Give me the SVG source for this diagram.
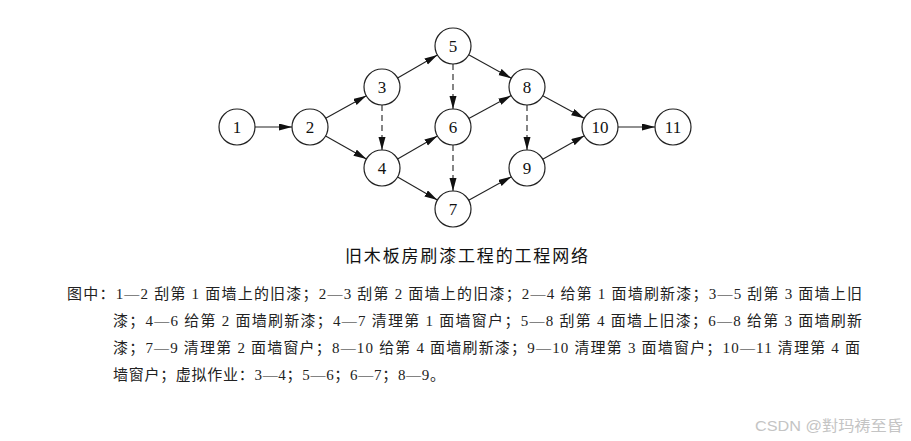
<svg xmlns="http://www.w3.org/2000/svg" width="911" height="441" viewBox="0 0 911 441">
<style>
.node circle{fill:#fff;stroke:#222;stroke-width:1.2}
.node text{font-family:"Liberation Serif","Times New Roman",serif;font-size:17px;fill:#111;text-anchor:middle}
.edge{stroke:#222;stroke-width:1.1;fill:none;marker-end:url(#ah)}
.dash{stroke-dasharray:6 4}
.cap{font-family:"Liberation Serif","Noto Sans CJK SC",serif;font-size:15px;fill:#222}
.title{font-family:"Noto Sans CJK SC",sans-serif;font-size:17px;fill:#111}
.wm{font-family:"Liberation Sans","Noto Sans CJK SC",sans-serif;font-size:15px;fill:#c4c4c4}
</style>
<defs>
<marker id="ah" markerUnits="userSpaceOnUse" markerWidth="14" markerHeight="8" refX="13" refY="3.5" orient="auto">
<path d="M0,0 L13,3.5 L0,7 Z" fill="#111"/>
</marker>
</defs>
<rect width="911" height="441" fill="#fff"/>
<g id="connectors">
<line class="edge" x1="255" y1="127" x2="292" y2="127"/>
<line class="edge" x1="325.7" y1="118.3" x2="366.3" y2="95.7"/>
<line class="edge" x1="325.6" y1="135.9" x2="366.4" y2="159.1"/>
<line class="edge" x1="397.6" y1="78" x2="437.4" y2="55"/>
<line class="edge dash" x1="382" y1="105" x2="382" y2="150"/>
<line class="edge" x1="397.6" y1="159" x2="437.4" y2="136"/>
<line class="edge" x1="397.6" y1="177" x2="437.4" y2="200"/>
<line class="edge dash" x1="453" y1="64" x2="453" y2="109"/>
<line class="edge" x1="468.7" y1="54.7" x2="511.3" y2="78.3"/>
<line class="edge" x1="468.8" y1="118.4" x2="511.2" y2="95.6"/>
<line class="edge dash" x1="453" y1="145" x2="453" y2="191"/>
<line class="edge" x1="468.7" y1="200.3" x2="511.3" y2="176.7"/>
<line class="edge dash" x1="527" y1="105" x2="527" y2="150"/>
<line class="edge" x1="542.8" y1="95.7" x2="584.2" y2="118.3"/>
<line class="edge" x1="542.7" y1="159.2" x2="584.3" y2="135.8"/>
<line class="edge" x1="618" y1="127" x2="655" y2="127"/>
</g>
<g id="n1" class="node"><circle cx="237" cy="127" r="18"/><text x="237" y="133">1</text></g>
<g id="n2" class="node"><circle cx="310" cy="127" r="18"/><text x="310" y="133">2</text></g>
<g id="n3" class="node"><circle cx="382" cy="87" r="18"/><text x="382" y="93">3</text></g>
<g id="n4" class="node"><circle cx="382" cy="168" r="18"/><text x="382" y="174">4</text></g>
<g id="n5" class="node"><circle cx="453" cy="46" r="18"/><text x="453" y="52">5</text></g>
<g id="n6" class="node"><circle cx="453" cy="127" r="18"/><text x="453" y="133">6</text></g>
<g id="n7" class="node"><circle cx="453" cy="209" r="18"/><text x="453" y="215">7</text></g>
<g id="n8" class="node"><circle cx="527" cy="87" r="18"/><text x="527" y="93">8</text></g>
<g id="n9" class="node"><circle cx="527" cy="168" r="18"/><text x="527" y="174">9</text></g>
<g id="n10" class="node"><circle cx="600" cy="127" r="18"/><text x="600" y="133">10</text></g>
<g id="n11" class="node"><circle cx="673" cy="127" r="18"/><text x="673" y="133">11</text></g>
<text class="title" x="345" y="262" textLength="243" lengthAdjust="spacing">旧木板房刷漆工程的工程网络</text>
<text class="cap" x="67" y="299" textLength="795" lengthAdjust="spacing">图中：1—2 刮第 1 面墙上的旧漆；2—3 刮第 2 面墙上的旧漆；2—4 给第 1 面墙刷新漆；3—5 刮第 3 面墙上旧</text>
<text class="cap" x="113" y="326" textLength="749" lengthAdjust="spacing">漆；4—6 给第 2 面墙刷新漆；4—7 清理第 1 面墙窗户；5—8 刮第 4 面墙上旧漆；6—8 给第 3 面墙刷新</text>
<text class="cap" x="113" y="353" textLength="747" lengthAdjust="spacing">漆；7—9 清理第 2 面墙窗户；8—10 给第 4 面墙刷新漆；9—10 清理第 3 面墙窗户；10—11 清理第 4 面</text>
<text class="cap" x="113" y="380" textLength="332" lengthAdjust="spacing">墙窗户；虚拟作业：3—4；5—6；6—7；8—9。</text>
<text class="wm" x="755" y="431" textLength="148" lengthAdjust="spacingAndGlyphs">CSDN @對玛祷至昏</text>
</svg>
